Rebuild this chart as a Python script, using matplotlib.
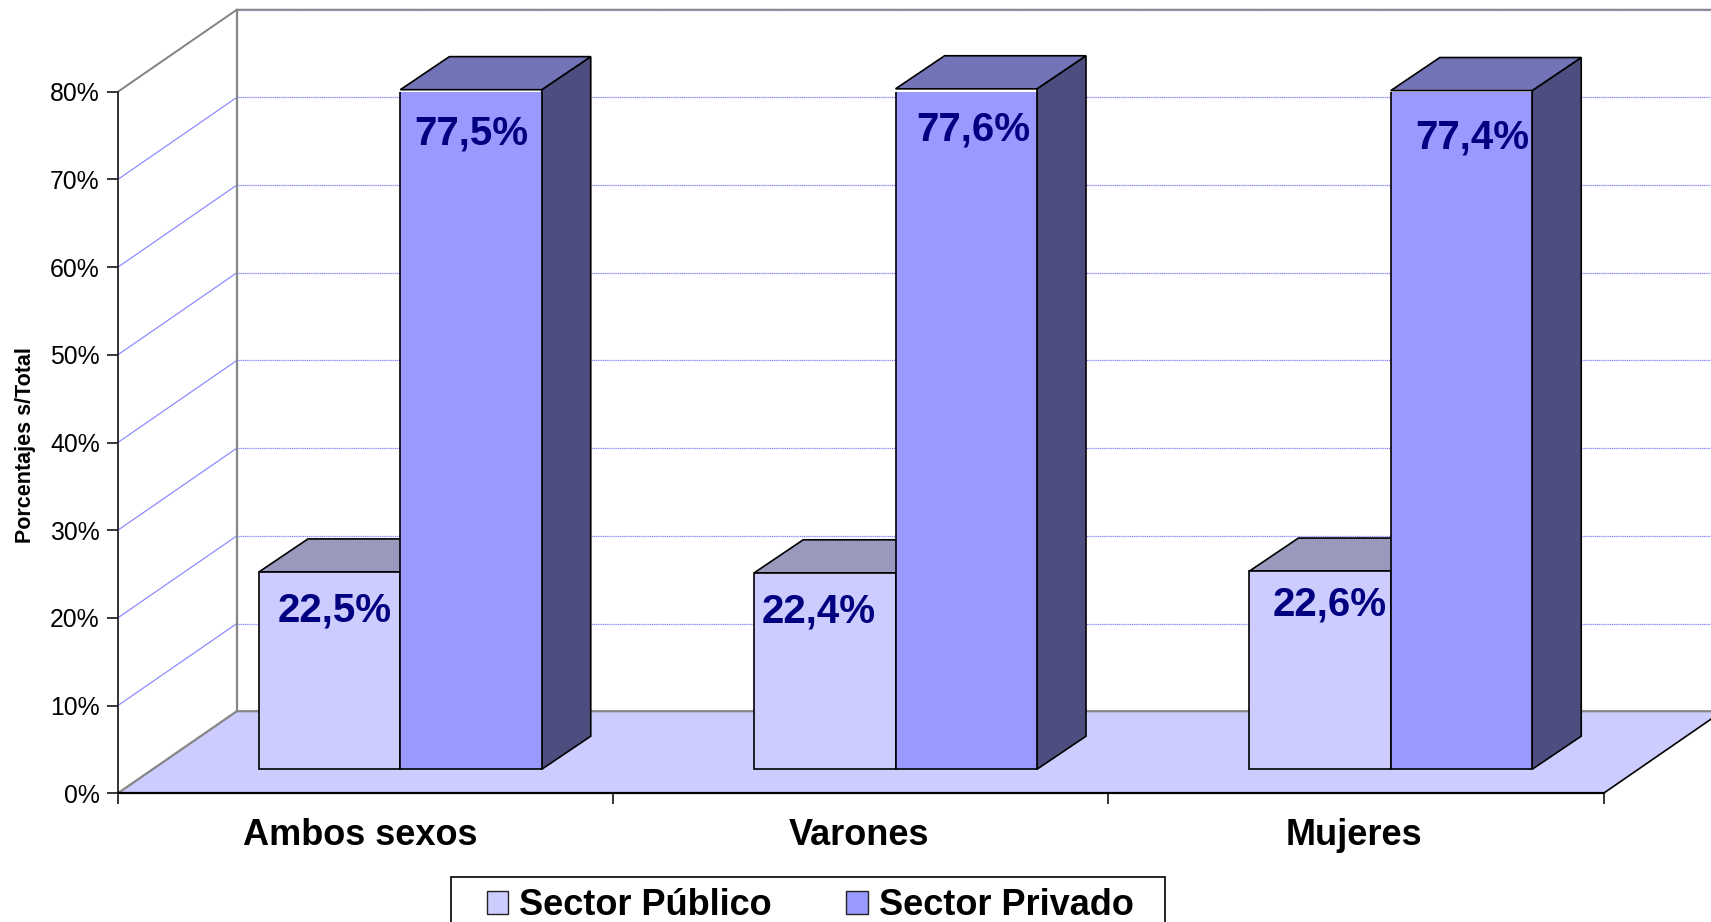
import matplotlib
matplotlib.use("Agg")
import matplotlib.pyplot as plt
from matplotlib.patches import Polygon, Patch, Rectangle

plt.rcParams['font.family'] = ['Liberation Sans', 'DejaVu Sans']

categories = ['Ambos sexos', 'Varones', 'Mujeres']
publico = [22.5, 22.4, 22.6]
privado = [77.5, 77.6, 77.4]
publico_txt = ['22,5%', '22,4%', '22,6%']
privado_txt = ['77,5%', '77,6%', '77,4%']
yticks = [0, 10, 20, 30, 40, 50, 60, 70, 80]

# fake 3d offsets, in data units
floor_dx, floor_dy = 0.2403, 9.36
front_dy = 2.74
bar_dx, bar_dy = 0.099, 3.77
bar_left = 0.285
bar_w = 0.2855
right_edge = 3.25

# label nudges (x from bar centre, y below bar top)
pub_nudge = [(0.011, 4.35), (-0.012, 4.45), (0.019, 3.8)]
pri_nudge = [(0.001, 5.0), (0.015, 4.6), (0.021, 5.4)]

fig = plt.figure(figsize=(17.11, 9.22), dpi=100)
ax = fig.add_axes([117.8 / 1711, 1 - 793.3 / 922, 1485.7 / 1711, 701.5 / 922])
ax.set_xlim(0, 3)
ax.set_ylim(0, 80)
ax.patch.set_visible(False)

# floor
ax.add_patch(Polygon([(0, 0), (3, 0), (3 + floor_dx, floor_dy), (floor_dx, floor_dy)],
                     closed=True, fc='#CCCCFF', ec='none', clip_on=False, zorder=1))
ax.plot([3, 3 + floor_dx], [0, floor_dy], color='black', lw=1.2, clip_on=False, zorder=2)

# grid on both walls
for v in yticks[1:]:
    ax.plot([0, floor_dx], [v, v + floor_dy], color='#8C8CFF', lw=0.9, clip_on=False, zorder=1)
    ax.plot([floor_dx, right_edge], [v + floor_dy, v + floor_dy], color='#8C8CFF', lw=0.9,
            ls=(0, (1, 0.5)), clip_on=False, zorder=1)

# wall frame
gray = '#868686'
ax.plot([0, floor_dx, right_edge], [0, floor_dy, floor_dy], color=gray, lw=1.6, clip_on=False, zorder=2)
ax.plot([0, floor_dx, right_edge], [80, 80 + floor_dy, 80 + floor_dy], color=gray, lw=1.4, clip_on=False, zorder=2)
ax.plot([floor_dx, floor_dx], [floor_dy, 80 + floor_dy], color=gray, lw=1.6, clip_on=False, zorder=2)

# bars
for i in range(3):
    x0 = i + bar_left
    x1 = x0 + bar_w
    x2 = x1 + bar_w
    top_pub = front_dy + publico[i]
    top_pri = front_dy + privado[i]
    ax.add_patch(Polygon([(x0, top_pub), (x1, top_pub), (x1 + bar_dx, top_pub + bar_dy), (x0 + bar_dx, top_pub + bar_dy)],
                         closed=True, fc='#9999BD', ec='black', lw=1.2, clip_on=False, zorder=3))
    ax.bar(x0, publico[i], bar_w, bottom=front_dy, align='edge', color='#CCCCFF', edgecolor='black', lw=1.2, zorder=3)
    ax.add_patch(Polygon([(x2, front_dy), (x2 + bar_dx, front_dy + bar_dy), (x2 + bar_dx, top_pri + bar_dy), (x2, top_pri)],
                         closed=True, fc='#4D4D7F', ec='black', lw=1.2, clip_on=False, zorder=4))
    ax.add_patch(Polygon([(x1, top_pri), (x2, top_pri), (x2 + bar_dx, top_pri + bar_dy), (x1 + bar_dx, top_pri + bar_dy)],
                         closed=True, fc='#7373B8', ec='black', lw=1.2, clip_on=False, zorder=4))
    ax.bar(x1, privado[i], bar_w, bottom=front_dy, align='edge', color='#9999FF', edgecolor='black', lw=1.2, zorder=4)

    ax.text(x0 + bar_w / 2 + pub_nudge[i][0], top_pub - pub_nudge[i][1], publico_txt[i], color='#000080',
            fontsize=29, fontweight='bold', ha='center', va='center', zorder=5)
    ax.text(x1 + bar_w / 2 + pri_nudge[i][0], top_pri - pri_nudge[i][1], privado_txt[i], color='#000080',
            fontsize=29, fontweight='bold', ha='center', va='center', zorder=5)

# axes
for s in ['top', 'right']:
    ax.spines[s].set_visible(False)
ax.spines['left'].set_linewidth(1.3)
ax.spines['left'].set_color('#222222')
ax.spines['bottom'].set_linewidth(1.6)
ax.spines['left'].set_zorder(6)
ax.spines['bottom'].set_zorder(6)
ax.set_yticks(yticks)
ax.set_yticklabels(['%d%%' % v for v in yticks])
ax.set_xticks([0, 1, 2, 3])
ax.set_xticklabels([])
ax.set_xticks([0.49, 1.497, 2.497], minor=True)
ax.set_xticklabels(categories, minor=True, fontsize=26, fontweight='bold')
ax.tick_params(axis='y', labelsize=17.8, length=8, width=1.1, pad=5)
ax.tick_params(axis='x', which='major', length=8, width=1.1)
ax.tick_params(axis='x', which='minor', length=0, pad=18)

fig.text(26 / 1711, 1 - 445 / 922, 'Porcentajes s/Total', rotation=90, fontsize=15.5, fontweight='bold',
         ha='center', va='center')

# legend box runs off the bottom of the figure
fig.add_artist(Rectangle((450.7 / 1711, -10 / 922), 714.7 / 1711, 55 / 922, transform=fig.transFigure,
                         fc='white', ec='black', lw=1.2))
handles = [Patch(fc='#CCCCFF', ec='#222222', lw=1.0), Patch(fc='#9999FF', ec='#222222', lw=1.0)]
leg = fig.legend(handles, ['Sector Público', 'Sector Privado'], ncols=2, loc='center',
                 bbox_to_anchor=(810 / 1711, 1 - 905.5 / 922), frameon=False,
                 handlelength=0.6, handleheight=0.6,
                 handletextpad=0.3, columnspacing=2.06, borderpad=0, borderaxespad=0,
                 prop={'weight': 'bold', 'size': 26})

fig.savefig('out.png', dpi=100)
